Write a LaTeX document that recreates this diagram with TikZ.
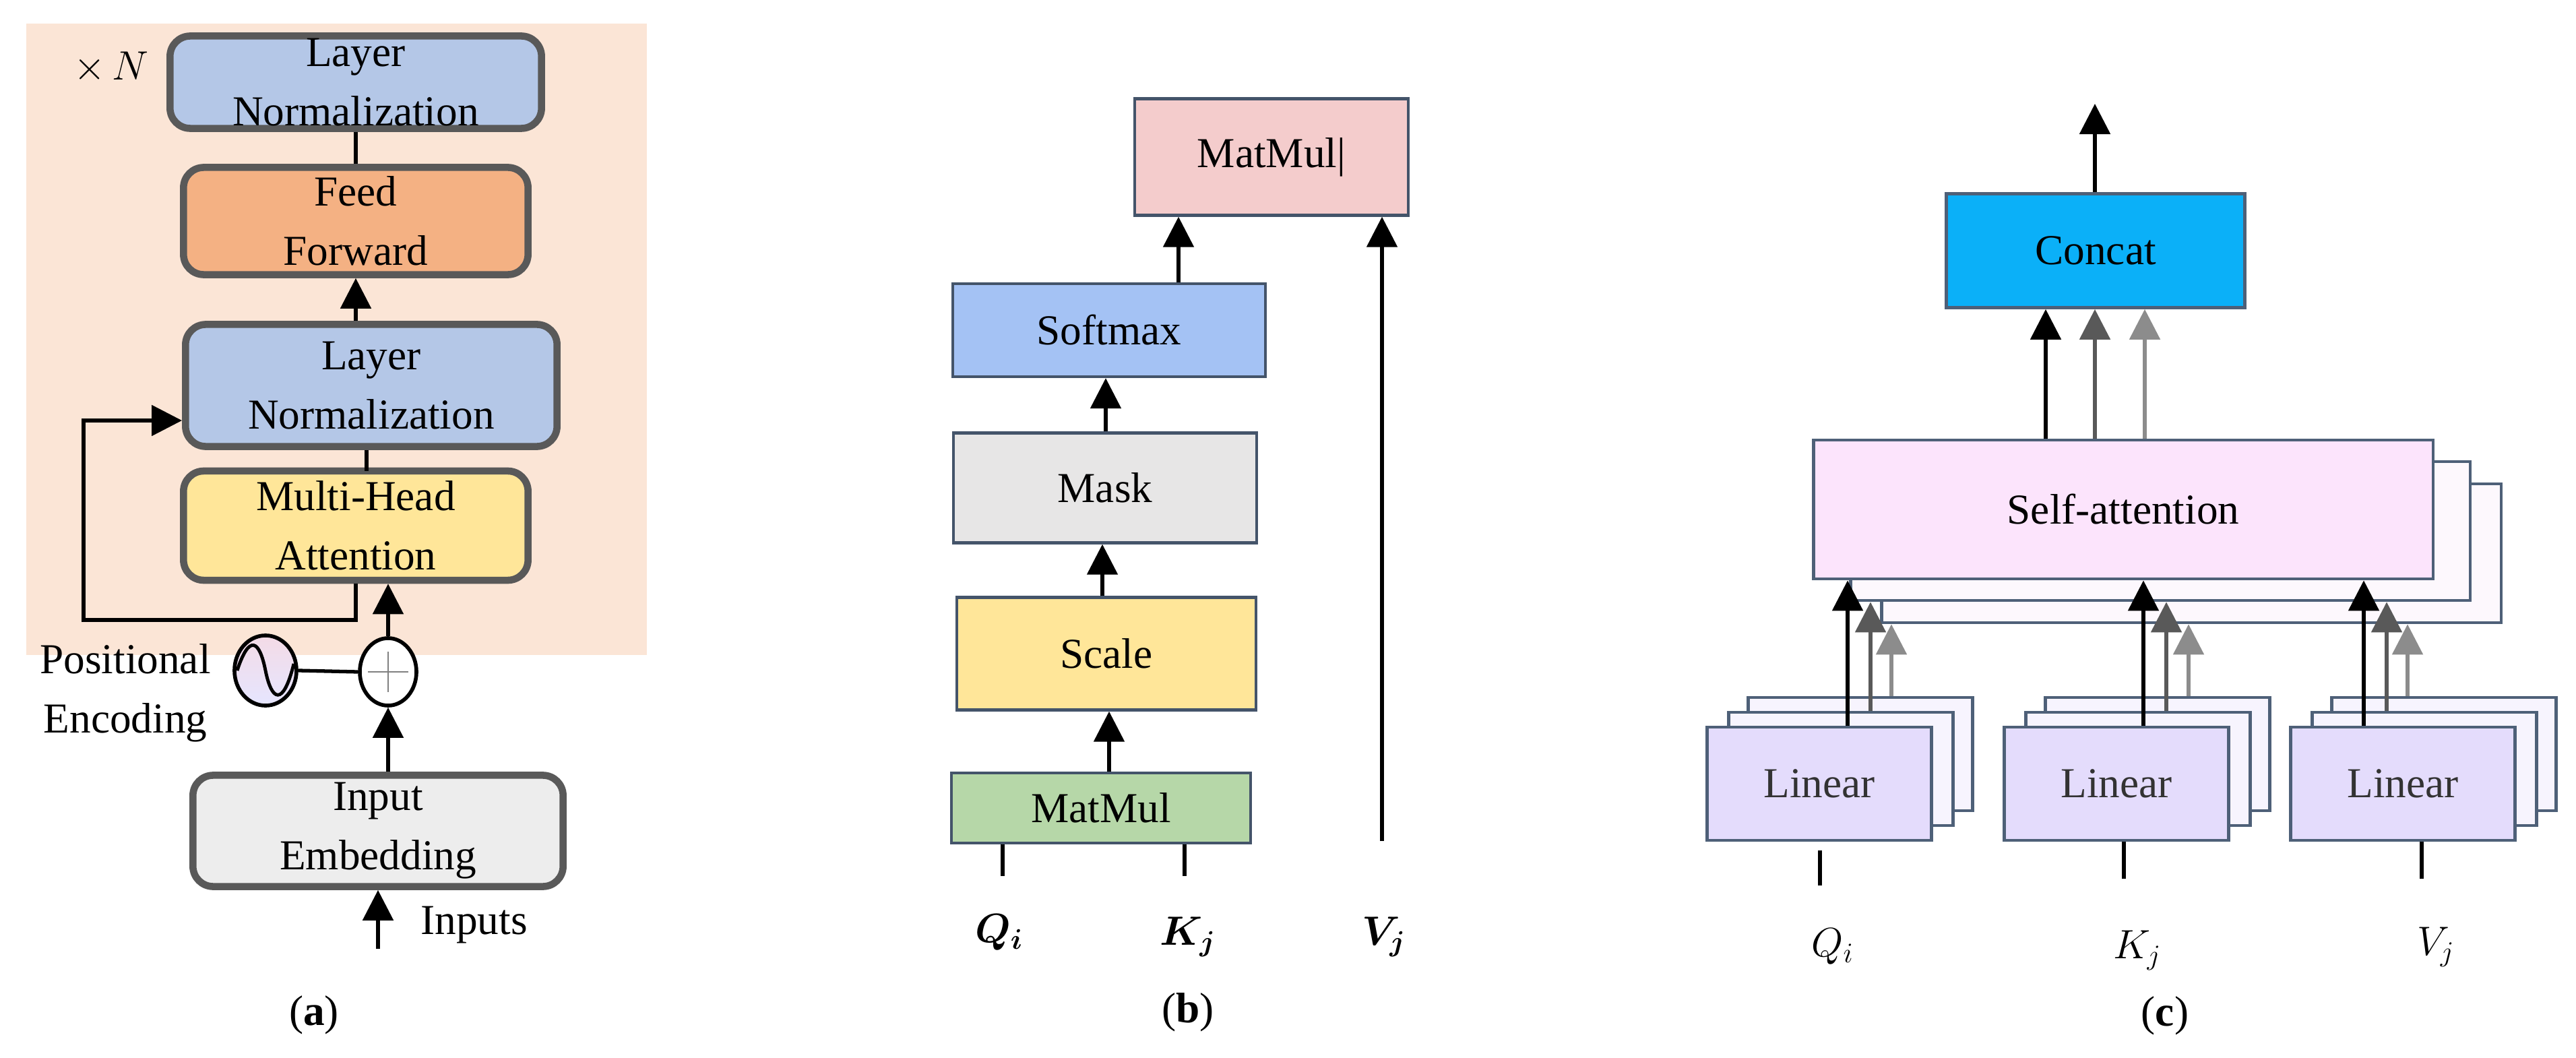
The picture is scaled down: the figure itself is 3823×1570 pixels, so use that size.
\documentclass[tikz,border=0pt]{standalone}
\usepackage{fontspec}
\setmainfont{Liberation Serif}
\usepackage{amsmath,bm}
\usetikzlibrary{arrows.meta,shapes.geometric}
\definecolor{peach}{HTML}{FBE5D6}
\definecolor{lnc}{HTML}{B4C7E7}
\definecolor{ffc}{HTML}{F4B183}
\definecolor{mhac}{HTML}{FFE699}
\definecolor{iec}{HTML}{EDEDED}
\definecolor{bda}{HTML}{595959}
\definecolor{bdb}{HTML}{44546A}
\definecolor{bdc}{HTML}{4E6078}
\definecolor{mmtop}{HTML}{F4CCCC}
\definecolor{smc}{HTML}{A4C2F4}
\definecolor{mkc}{HTML}{E7E6E6}
\definecolor{mmbot}{HTML}{B6D7A8}
\definecolor{catc}{HTML}{0BB0F8}
\definecolor{sac}{HTML}{FCE4FC}
\definecolor{sacb}{HTML}{FDF8FD}
\definecolor{linc}{HTML}{E4DCFC}
\definecolor{lincb}{HTML}{F7F4FE}
\definecolor{dg}{HTML}{595959}
\definecolor{lg}{HTML}{8C8C8C}
\begin{document}
\begin{tikzpicture}[x=0.01cm,y=-0.01cm,
  txt/.style={font=\fontsize{18}{25}\selectfont},
  abox/.style={draw=bda,line width=3pt,rounded corners=0.3cm,inner sep=0pt,align=center,txt},
  bbox/.style={draw=bdb,line width=1.2pt,inner sep=0pt,align=center,font=\fontsize{18}{22}\selectfont},
  cbox/.style={draw=bdc,line width=1.3pt,inner sep=0pt,align=center,font=\fontsize{18}{22}\selectfont},
  arr/.style={line width=1.5pt,-{Triangle[length=0.45cm,width=0.45cm]}},
  ln/.style={line width=1.5pt},
  arrd/.style={arr,draw=dg,fill=dg},
  arrl/.style={arr,draw=lg,fill=lg}]
\useasboundingbox (0,0) rectangle (3823,1570);
% ---------- (a)
\fill[peach] (39,35) rectangle (960,972);
\node[abox,fill=lnc,minimum width=5.51cm,minimum height=1.37cm] (ln1) at (528,122) {Layer\\Normalization};
\node[abox,fill=ffc,minimum width=5.11cm,minimum height=1.59cm] (ff) at (528,328) {Feed\\Forward};
\node[abox,fill=lnc,minimum width=5.51cm,minimum height=1.81cm] (ln2) at (551,572) {Layer\\Normalization};
\node[abox,fill=mhac,minimum width=5.11cm,minimum height=1.62cm] (mha) at (528,780) {Multi-Head\\Attention};
\node[txt] (xn) at (165,100) {$\times\, N$};
\draw[ln] (ln1.south) -- (ff.north);
\draw[arr] (ff.south |- ln2.north) -- (ff.south);
\draw[ln] (ln2.south -| 544,0) -- (544,699);
\coordinate (sk1) at (528,920);
\coordinate (sk2) at (124,920);
\coordinate (sk3) at (124,624);
\draw[arr] (mha.south) -- (sk1) -- (sk2) -- (sk3) -- (ln2.west |- sk3);
\node[ellipse,draw,line width=1.6pt,fill=white,minimum width=0.84cm,minimum height=1.0cm,inner sep=0pt] (plus) at (576,997) {};
\draw[gray,line width=0.8pt] ([yshift=-0.3cm]plus.center) -- ([yshift=0.3cm]plus.center) ([xshift=-0.3cm]plus.center) -- ([xshift=0.3cm]plus.center);
\node[ellipse,draw,line width=1.6pt,top color=pink!70!violet!30,bottom color=blue!10,minimum width=0.92cm,minimum height=1.04cm,inner sep=0pt] (pe) at (394,995) {};
\draw[line width=1.4pt] ([xshift=-0.42cm]pe.center) .. controls (370,940) and (385,950) .. (pe.center) .. controls (403,1040) and (420,1050) .. ([xshift=0.42cm,yshift=0.1cm]pe.center);
\draw[ln] (pe.east) -- (plus.west);
\draw[arr] (plus.north) -- (plus.north |- mha.south);
\node[txt,align=center] (pet) at (186,1028) {Positional\\Encoding};
\node[abox,fill=iec,minimum width=5.49cm,minimum height=1.65cm] (ie) at (561,1233) {Input\\Embedding};
\draw[arr] (plus.south |- ie.north) -- (plus.south);
\coordinate (inb) at (561,1408);
\draw[arr] (inb) -- (inb |- ie.south);
\node[txt,anchor=west] (inl) at (612,1373) {Inputs};
\node[txt] (la) at (466,1506) {(\textbf{a})};
% ---------- (b)
\node[bbox,fill=mmtop,minimum width=4.06cm,minimum height=1.73cm] (mm2) at (1887,233) {MatMul|};
\node[bbox,fill=smc,minimum width=4.64cm,minimum height=1.38cm] (sm) at (1646,490) {Softmax};
\node[bbox,fill=mkc,minimum width=4.49cm,minimum height=1.63cm] (mk) at (1640,724) {Mask};
\node[bbox,fill=mhac,minimum width=4.44cm,minimum height=1.67cm] (sc) at (1642,970) {Scale};
\node[bbox,fill=mmbot,minimum width=4.43cm,minimum height=1.04cm] (mm1) at (1634,1199) {MatMul};
\draw[arr] (mm1.north -| 1646,0) -- (sc.south -| 1646,0);
\draw[arr] (sc.north -| 1636,0) -- (mk.south -| 1636,0);
\draw[arr] (mk.north -| 1641,0) -- (sm.south -| 1641,0);
\coordinate (smt) at (1749,0);
\draw[arr] (sm.north -| smt) -- (mm2.south -| smt);
\coordinate (vb) at (2051,1248);
\draw[arr] (vb) -- (vb |- mm2.south);
\coordinate (qb) at (1488,1300);
\coordinate (kb) at (1758,1300);
\draw[ln] (qb) -- (qb |- mm1.south);
\draw[ln] (kb) -- (kb |- mm1.south);
\node[txt] (bq) at (1483,1384) {$\bm{Q_i}$};
\node[txt] (bk) at (1763,1390) {$\bm{K_j}$};
\node[txt] (bv) at (2054,1390) {$\bm{V_j}$};
\node[txt] (lb) at (1763,1502) {(\textbf{b})};
% ---------- (c)
\node[cbox,fill=catc,minimum width=4.43cm,minimum height=1.69cm] (cat) at (3110,372) {Concat};
\node[cbox,fill=sacb,minimum width=9.19cm,minimum height=2.06cm] (sa3) at (3252,821) {};
\node[cbox,fill=sacb,minimum width=9.19cm,minimum height=2.06cm] (sa2) at (3206,788) {};
\node[cbox,fill=sac,minimum width=9.19cm,minimum height=2.06cm] (sa) at (3151,756) {Self-attention};
\foreach \n/\x in {1/2700,2/3141,3/3566}{
  \node[cbox,fill=lincb,minimum width=3.33cm,minimum height=1.68cm] (l\n c) at (\x+61,1119) {};
  \node[cbox,fill=lincb,minimum width=3.33cm,minimum height=1.68cm] (l\n b) at (\x+32,1141) {};
  \node[cbox,fill=linc,minimum width=3.33cm,minimum height=1.68cm,text=black!80] (l\n a) at (\x,1163) {Linear};
}
\foreach \n/\xa/\xb/\xc in {1/2742/2776/2807,2/3181/3215/3248,3/3508/3542/3573}{
  \coordinate (pa\n) at (\xa,0);
  \coordinate (pb\n) at (\xb,0);
  \coordinate (pc\n) at (\xc,0);
  \draw[arr] (l\n a.north -| pa\n) -- (sa.south -| pa\n);
  \draw[arrd] (l\n b.north -| pb\n) -- (sa2.south -| pb\n);
  \draw[arrl] (l\n c.north -| pc\n) -- (sa3.south -| pc\n);
}
\coordinate (ca) at (3036,0);
\coordinate (cb) at (3109,0);
\coordinate (cc) at (3183,0);
\draw[arr] (sa.north -| ca) -- (cat.south -| ca);
\draw[arrd] (sa.north -| cb) -- (cat.south -| cb);
\draw[arrl] (sa.north -| cc) -- (cat.south -| cc);
\coordinate (out) at (3109,154);
\draw[arr] (cat.north -| out) -- (out);
\coordinate (tq) at (2701,1314);
\coordinate (tk) at (3152,1304);
\coordinate (tv) at (3594,1304);
\draw[ln] (tq) -- (2701,1262);
\draw[ln] (tk) -- (tk |- l2a.south);
\draw[ln] (tv) -- (tv |- l3a.south);
\node[txt] (cq) at (2720,1405) {$Q_i$};
\node[txt] (ck) at (3172,1410) {$K_j$};
\node[txt] (cv) at (3615,1405) {$V_j$};
\node[txt] (lc) at (3213,1507) {(\textbf{c})};
\end{tikzpicture}
\end{document}
